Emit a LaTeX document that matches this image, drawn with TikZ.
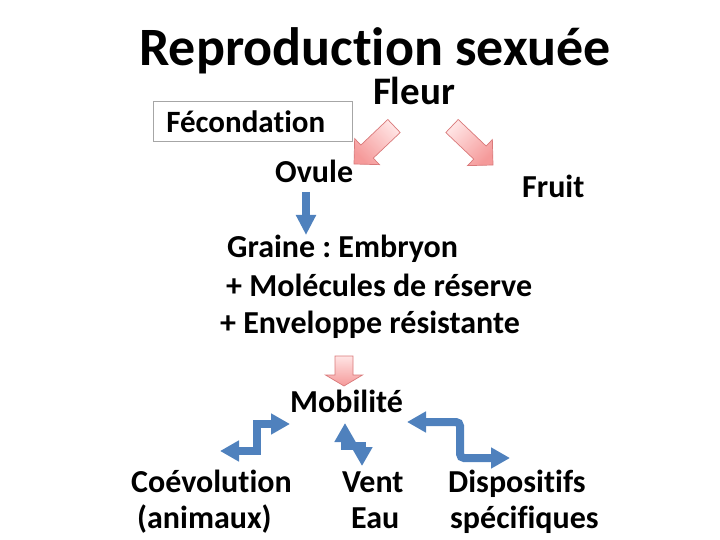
\documentclass[tikz,border=0pt]{standalone}
\usepackage{fontspec}
\setmainfont{Carlito}[Ligatures=NoCommon]
\frenchspacing
\usetikzlibrary{arrows.meta,calc}
\definecolor{bluearr}{HTML}{4F81BD}
\definecolor{pinklight}{HTML}{FFE4E4}
\definecolor{pinkdark}{HTML}{F59A9A}
\definecolor{pinkline}{HTML}{D9797A}
\newcommand\blockarr[6]{% style, tail, tip, shaft half width, head half width, head length
  \path ($(#3)!#6!(#2)$) coordinate (ba-b);
  \draw[#1] ($(#2)!#4!90:(#3)$) -- ($(ba-b)!#4!90:(#3)$) -- ($(ba-b)!#5!90:(#3)$)
    -- (#3) -- ($(ba-b)!#5!-90:(#3)$) -- ($(ba-b)!#4!-90:(#3)$) -- ($(#2)!#4!-90:(#3)$) -- cycle;
}
\tikzset{
  txt/.style={font=\fontsize{32}{38}\selectfont\bfseries, inner sep=0pt, anchor=base west},
  pinkarr/.style={draw=pinkline, line width=0.7pt, line join=miter},
  bluelink/.style={draw=bluearr, line width=8pt,
    {Triangle[length=19pt,width=20pt]}-{Triangle[length=19pt,width=20pt]}},
}
\begin{document}
\begin{tikzpicture}[x=1pt,y=-1pt]
\useasboundingbox (0,0) rectangle (720,540);
% texts
\node[txt, font=\fontsize{54}{60}\selectfont\bfseries, anchor=base] (title) at (375,66) {Reproduction sexuée};
\node[txt, font=\fontsize{39}{46}\selectfont\bfseries, anchor=base] (fleur) at (414,105) {Fleur};
\node[draw=gray!70, line width=0.6pt, anchor=north west, font=\fontsize{31}{37}\selectfont\bfseries,
      minimum height=40pt, text width=173pt, inner xsep=13pt, inner ysep=0pt, align=left] (fec) at (153,101) {Fécondation};
\node[txt] (ovule) at (275,183) {Ovule};
\node[txt] (fruit) at (522,197) {Fruit};
\node[txt] (graine) at (227,258) {Graine : Embryon};
\node[txt] (mol) at (226,296) {+ Molécules de réserve};
\node[txt] (env) at (220,333) {+ Enveloppe résistante};
\node[txt] (mob) at (290,412) {Mobilité};
\node[txt] (coev) at (131,492) {Coévolution};
\node[txt] (anim) at (137,528) {(animaux)};
\node[txt] (vent) at (342,492) {Vent};
\node[txt] (eau) at (351,528) {Eau};
\node[txt] (disp) at (448,492) {Dispositifs};
\node[txt] (spec) at (450,528) {spécifiques};
% pink block arrows
\coordinate (fl-a) at (394,126);
\coordinate (fl-b) at (354,164);
\coordinate (fr-a) at (452,126);
\coordinate (fr-b) at (493,165);
\coordinate (mo-a) at (344,356);
\coordinate (mo-b) at (344,386);
\blockarr{pinkarr, top color=pinklight, bottom color=pinkdark, shading angle=-45}{fl-a}{fl-b}{9pt}{18pt}{18pt}
\blockarr{pinkarr, top color=pinklight, bottom color=pinkdark, shading angle=45}{fr-a}{fr-b}{9pt}{18pt}{18pt}
\blockarr{pinkarr, top color=pinklight, bottom color=pinkdark}{mo-a}{mo-b}{9pt}{18.5pt}{11pt}
% blue arrow Ovule -> Graine
\coordinate (ov-a) at (306,192);
\coordinate (ov-b) at (306,235);
\draw[draw=bluearr, line width=8pt, -{Triangle[length=20pt,width=19pt]}] (ov-a) -- (ov-b);
% blue double arrows
\coordinate (ce-a) at (220,451);
\coordinate (ce-b) at (290,424);
\draw[bluelink] (ce-a) -- (257,451) -- (257,424) -- (ce-b);
\coordinate (ve-a) at (345,423);
\coordinate (ve-b) at (362,466);
\draw[bluelink] (ve-a) -- (345,446) -- (362,446) -- (ve-b);
\coordinate (di-a) at (407,422);
\coordinate (di-b) at (510,458);
\draw[bluelink, rounded corners=4pt] (di-a) -- (460,422) -- (460,458) -- (di-b);
\end{tikzpicture}
\end{document}
